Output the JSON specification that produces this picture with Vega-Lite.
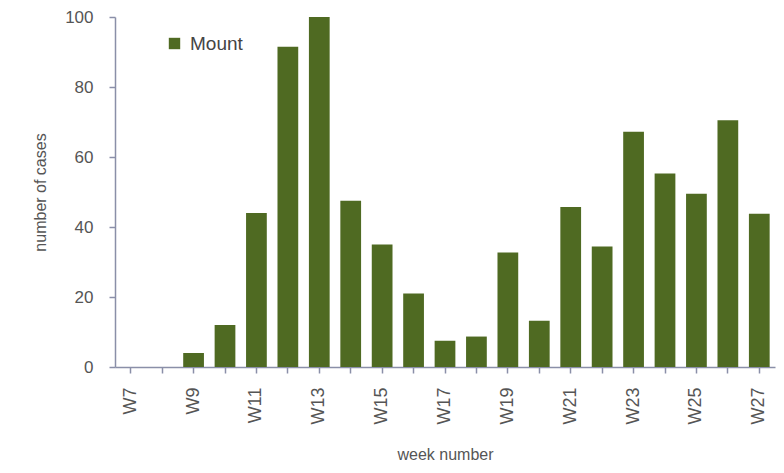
{
  "$schema": "https://vega.github.io/schema/vega-lite/v6.json",
  "width": 660,
  "height": 350,
  "autosize": {"type": "none"},
  "padding": {"left": 115, "top": 17, "right": 9, "bottom": 106},
  "background": "#ffffff",
  "config": {
    "font": "Liberation Sans",
    "view": {"stroke": null}
  },
  "data": {
    "values": [
      {"week": "W7", "cases": 0, "series": "Mount"},
      {"week": "W8", "cases": 0, "series": "Mount"},
      {"week": "W9", "cases": 4, "series": "Mount"},
      {"week": "W10", "cases": 12, "series": "Mount"},
      {"week": "W11", "cases": 44, "series": "Mount"},
      {"week": "W12", "cases": 91.5, "series": "Mount"},
      {"week": "W13", "cases": 100, "series": "Mount"},
      {"week": "W14", "cases": 47.5, "series": "Mount"},
      {"week": "W15", "cases": 35, "series": "Mount"},
      {"week": "W16", "cases": 21, "series": "Mount"},
      {"week": "W17", "cases": 7.5, "series": "Mount"},
      {"week": "W18", "cases": 8.7, "series": "Mount"},
      {"week": "W19", "cases": 32.7, "series": "Mount"},
      {"week": "W20", "cases": 13.2, "series": "Mount"},
      {"week": "W21", "cases": 45.7, "series": "Mount"},
      {"week": "W22", "cases": 34.4, "series": "Mount"},
      {"week": "W23", "cases": 67.2, "series": "Mount"},
      {"week": "W24", "cases": 55.3, "series": "Mount"},
      {"week": "W25", "cases": 49.5, "series": "Mount"},
      {"week": "W26", "cases": 70.5, "series": "Mount"},
      {"week": "W27", "cases": 43.8, "series": "Mount"}
    ]
  },
  "mark": {"type": "bar"},
  "encoding": {
    "x": {
      "field": "week",
      "type": "ordinal",
      "sort": null,
      "scale": {"paddingInner": 0.34, "paddingOuter": 0.17},
      "axis": {
        "title": "week number",
        "titleFontSize": 16,
        "titleFontWeight": "normal",
        "titleColor": "#555555",
        "titlePadding": 22,
        "labelAngle": 270,
        "labelFontSize": 18,
        "labelColor": "#555555",
        "labelPadding": 14,
        "labelExpr": "indexof(['W7','W9','W11','W13','W15','W17','W19','W21','W23','W25','W27'], datum.label) >= 0 ? datum.label : ''",
        "tickSize": 6,
        "tickWidth": 1.5,
        "tickColor": "#8a8fa8",
        "domainColor": "#8a8fa8",
        "domainWidth": 1.5,
        "grid": false
      }
    },
    "y": {
      "field": "cases",
      "type": "quantitative",
      "scale": {"domain": [0, 100], "nice": false},
      "axis": {
        "title": "number of cases",
        "titleFontSize": 16,
        "titleFontWeight": "normal",
        "titleColor": "#555555",
        "titlePadding": 16,
        "values": [0, 20, 40, 60, 80, 100],
        "labelFontSize": 17,
        "labelColor": "#555555",
        "labelPadding": 16,
        "tickSize": 6,
        "tickWidth": 1.5,
        "tickColor": "#8a8fa8",
        "domainColor": "#8a8fa8",
        "domainWidth": 1.5,
        "grid": false
      }
    },
    "color": {
      "field": "series",
      "type": "nominal",
      "scale": {"range": ["#4f6a22"]},
      "legend": {
        "title": null,
        "orient": "none",
        "legendX": 50,
        "legendY": 17,
        "symbolType": "square",
        "symbolSize": 130,
        "labelFontSize": 19,
        "labelColor": "#444444",
        "labelOffset": 6
      }
    }
  }
}
